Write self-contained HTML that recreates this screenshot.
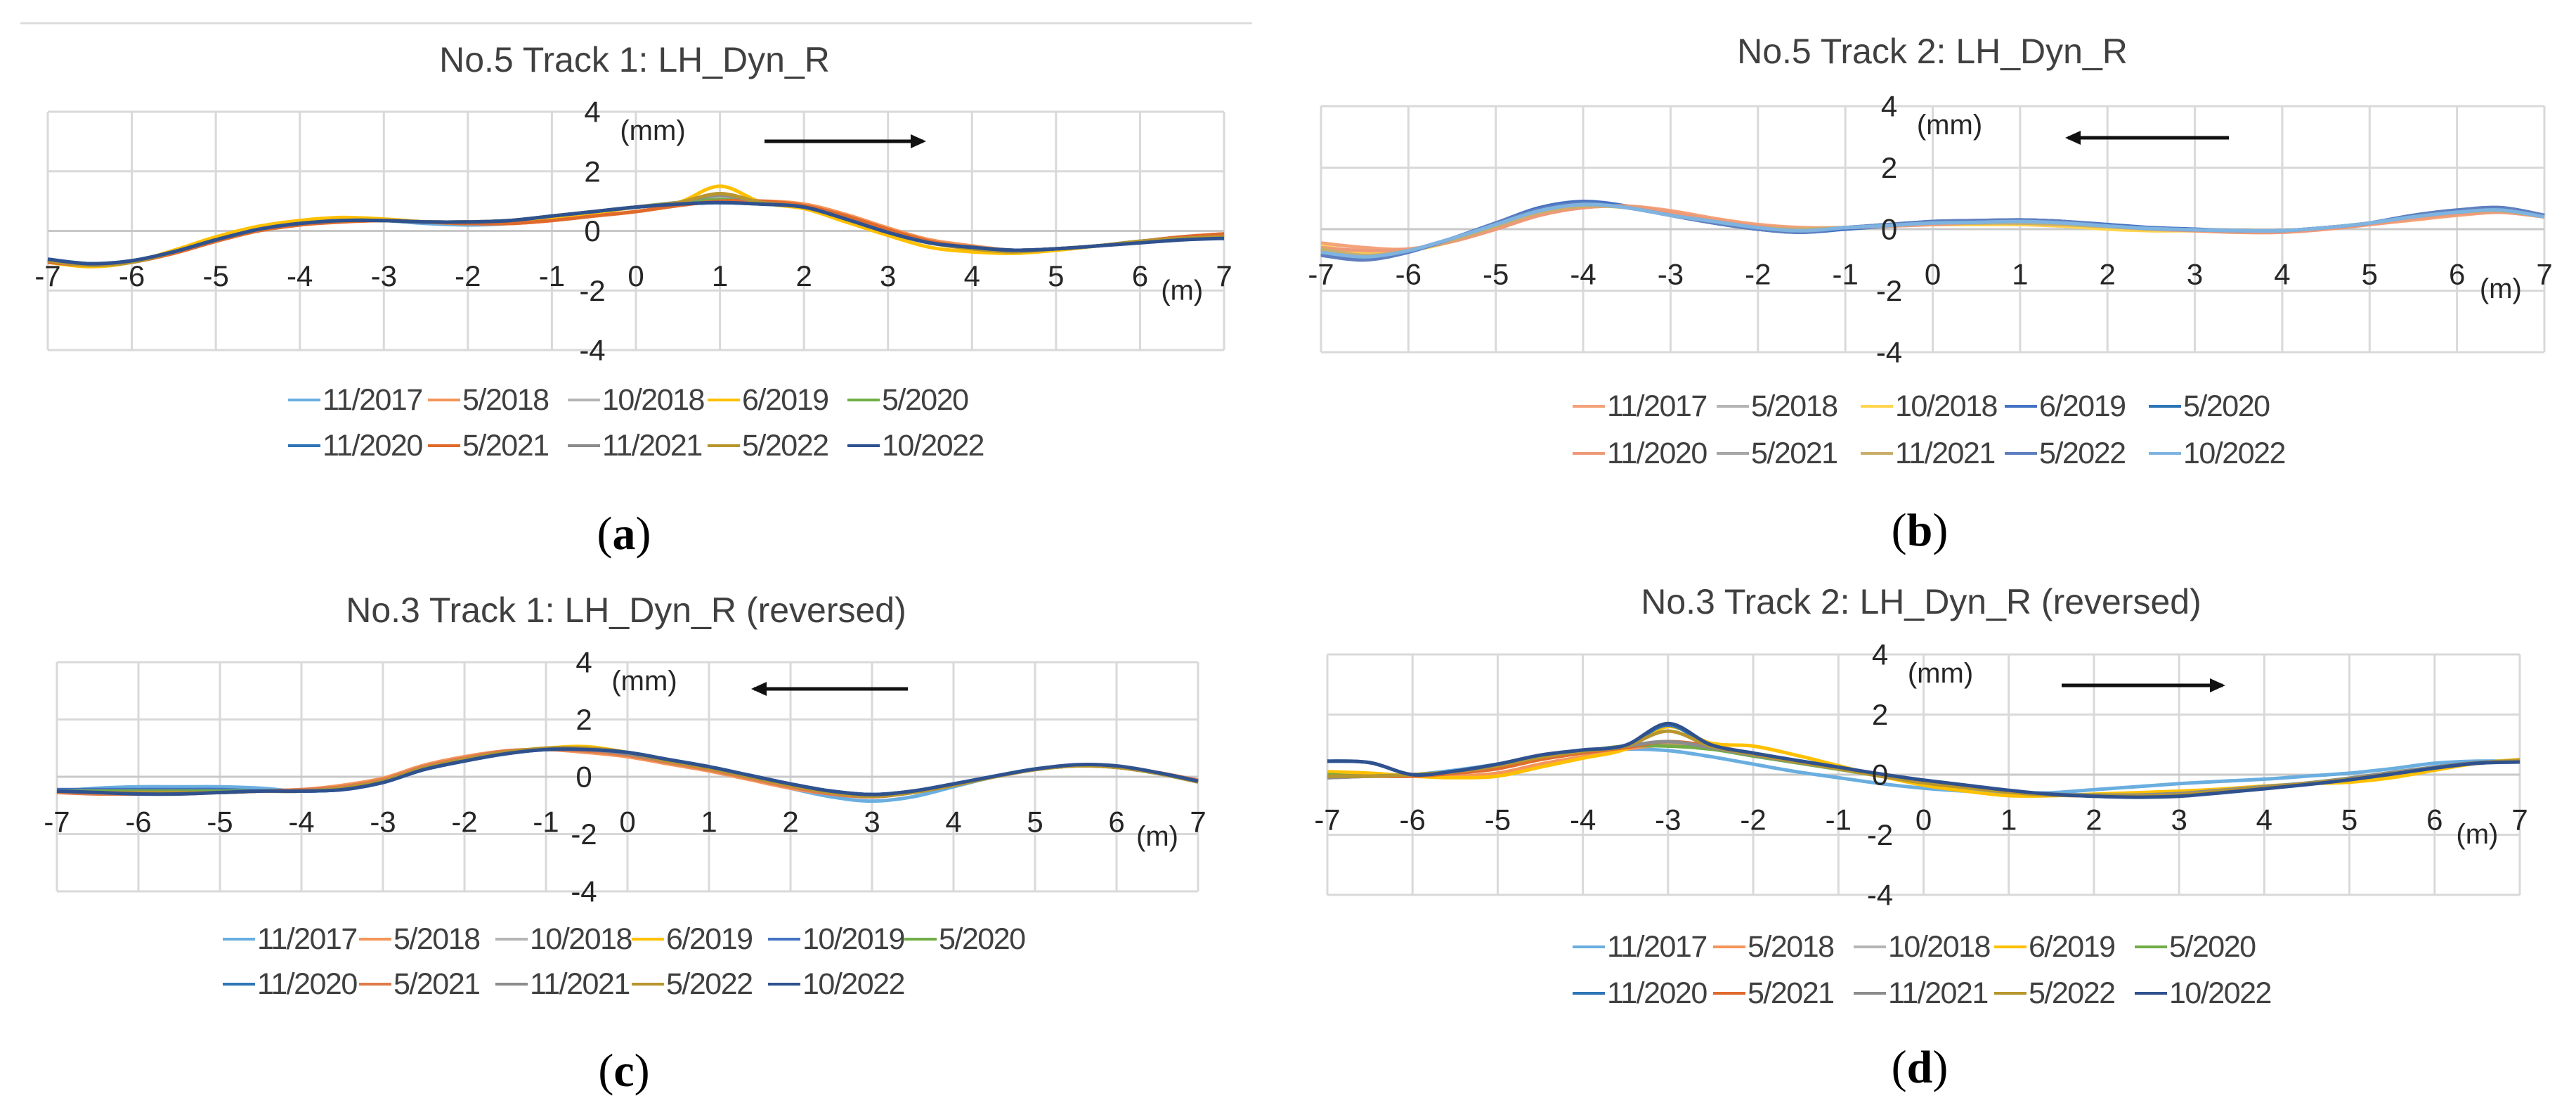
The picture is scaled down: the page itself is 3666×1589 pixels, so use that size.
<!DOCTYPE html>
<html><head><meta charset="utf-8">
<style>
html,body{margin:0;padding:0;background:#fff;}
svg{display:block;}
</style></head>
<body>
<svg id="fig" xmlns="http://www.w3.org/2000/svg" width="3666" height="1589" viewBox="0 0 3666 1589">
<rect x="0" y="0" width="3666" height="1589" fill="#fff"/>
<line x1="29" y1="33" x2="1782" y2="33" stroke="#dcdcdc" stroke-width="3"/>
</svg>
<script>
// shared x positions (m)
const xs = [-7,-6.5,-6,-5.5,-5,-4.5,-4,-3.5,-3,-2.5,-2,-1.5,-1,-0.5,0,0.5,1,1.5,2,2.5,3,3.5,4,4.5,5,5.5,6,6.5,7];
const xTicks = [-7,-6,-5,-4,-3,-2,-1,0,1,2,3,4,5,6,7];
const yTicks = [4,2,0,-2,-4];

// ---- chart (a) No.5 Track 1 ----
const aLabels = ["11/2017","5/2018","10/2018","6/2019","5/2020","11/2020","5/2021","11/2021","5/2022","10/2022"];
const a1 = [-1.0,-1.15,-1.05,-0.7,-0.3,0.05,0.25,0.35,0.35,0.25,0.2,0.25,0.4,0.6,0.8,0.95,1.0,0.95,0.8,0.4,-0.05,-0.4,-0.55,-0.65,-0.6,-0.5,-0.35,-0.2,-0.1];
const a2 = [-1.05,-1.15,-1.05,-0.75,-0.35,0.0,0.2,0.35,0.35,0.3,0.25,0.25,0.35,0.5,0.65,0.85,1.0,1.0,0.9,0.55,0.1,-0.3,-0.5,-0.65,-0.6,-0.5,-0.35,-0.2,-0.1];
const a3 = [-1.0,-1.15,-1.05,-0.7,-0.3,0.05,0.25,0.35,0.35,0.3,0.3,0.35,0.5,0.65,0.8,0.95,1.15,0.95,0.8,0.4,-0.05,-0.4,-0.55,-0.65,-0.6,-0.5,-0.35,-0.25,-0.2];
const a4 = [-1.05,-1.2,-1.05,-0.65,-0.2,0.15,0.35,0.45,0.4,0.3,0.25,0.3,0.45,0.6,0.8,0.95,1.5,0.95,0.75,0.3,-0.15,-0.55,-0.7,-0.75,-0.65,-0.5,-0.35,-0.25,-0.15];
const a5 = [-1.0,-1.15,-1.05,-0.7,-0.3,0.05,0.25,0.35,0.35,0.3,0.3,0.35,0.5,0.65,0.8,0.95,1.05,0.95,0.8,0.4,-0.05,-0.4,-0.55,-0.65,-0.6,-0.5,-0.35,-0.25,-0.25];
const a6 = [-0.95,-1.1,-1.0,-0.7,-0.3,0.05,0.25,0.35,0.35,0.3,0.3,0.35,0.5,0.65,0.8,0.9,0.95,0.9,0.8,0.4,-0.05,-0.4,-0.55,-0.65,-0.6,-0.5,-0.35,-0.25,-0.2];
const a7 = [-1.05,-1.15,-1.05,-0.75,-0.35,0.0,0.2,0.3,0.35,0.3,0.25,0.25,0.35,0.5,0.65,0.85,1.0,1.0,0.85,0.5,0.05,-0.35,-0.55,-0.65,-0.6,-0.5,-0.35,-0.2,-0.1];
const a8 = [-1.0,-1.15,-1.05,-0.7,-0.3,0.05,0.25,0.35,0.35,0.3,0.3,0.35,0.5,0.65,0.8,0.95,1.2,0.95,0.8,0.4,-0.05,-0.4,-0.55,-0.65,-0.6,-0.5,-0.35,-0.25,-0.2];
const a9 = [-1.0,-1.15,-1.05,-0.7,-0.3,0.05,0.25,0.35,0.35,0.3,0.3,0.35,0.5,0.65,0.8,0.95,1.25,0.95,0.8,0.4,-0.05,-0.4,-0.6,-0.7,-0.6,-0.5,-0.35,-0.25,-0.2];
const a10 = [-0.95,-1.1,-1.0,-0.7,-0.3,0.05,0.25,0.35,0.35,0.3,0.3,0.35,0.5,0.65,0.8,0.9,0.95,0.9,0.8,0.4,-0.05,-0.4,-0.55,-0.65,-0.6,-0.5,-0.4,-0.3,-0.25];
const aColors = ["#6aaee0","#f4955a","#b5b5b5","#ffc000","#70ad47","#2e75b6","#e06a2c","#8c8c8c","#b8962e","#2f528f"];

// ---- chart (b) No.5 Track 2 ----
const bLabels = ["11/2017","5/2018","10/2018","6/2019","5/2020","11/2020","5/2021","11/2021","5/2022","10/2022"];
const b1 = [-0.45,-0.6,-0.65,-0.4,0.0,0.45,0.7,0.75,0.6,0.35,0.15,0.05,0.05,0.1,0.15,0.15,0.15,0.1,0.05,0.0,-0.05,-0.1,-0.1,0.0,0.15,0.3,0.45,0.55,0.4];
const b2 = [-0.6,-0.8,-0.7,-0.35,0.1,0.55,0.8,0.7,0.45,0.25,0.05,-0.05,0.05,0.12,0.2,0.22,0.25,0.2,0.1,0.02,-0.02,-0.05,-0.05,0.05,0.2,0.4,0.55,0.62,0.4];
const b3 = [-0.55,-0.75,-0.7,-0.4,0.05,0.5,0.75,0.7,0.45,0.25,0.05,0.0,0.05,0.1,0.15,0.15,0.15,0.1,0.0,-0.05,-0.05,-0.05,-0.05,0.05,0.2,0.4,0.5,0.6,0.4];
const b4 = [-0.8,-0.95,-0.7,-0.3,0.2,0.7,0.9,0.75,0.45,0.2,0.0,-0.1,0.0,0.1,0.2,0.25,0.3,0.25,0.15,0.05,0.0,-0.05,-0.05,0.05,0.2,0.45,0.6,0.7,0.45];
const b5 = [-0.8,-0.95,-0.7,-0.3,0.15,0.65,0.85,0.7,0.45,0.2,0.0,-0.1,0.05,0.15,0.25,0.28,0.3,0.25,0.12,0.02,-0.02,-0.05,-0.05,0.05,0.2,0.45,0.62,0.68,0.45];
const b6 = [-0.6,-0.7,-0.65,-0.4,0.0,0.45,0.7,0.75,0.55,0.3,0.1,0.0,0.05,0.1,0.15,0.2,0.2,0.15,0.1,0.0,-0.05,-0.1,-0.1,0.0,0.15,0.35,0.5,0.55,0.4];
const b7 = [-0.7,-0.9,-0.7,-0.35,0.1,0.6,0.8,0.7,0.45,0.25,0.05,-0.05,0.05,0.12,0.2,0.22,0.25,0.2,0.1,0.02,-0.02,-0.05,-0.05,0.05,0.2,0.4,0.55,0.62,0.4];
const b8 = [-0.65,-0.85,-0.7,-0.35,0.1,0.55,0.75,0.7,0.45,0.25,0.05,0.0,0.05,0.12,0.2,0.2,0.2,0.15,0.08,0.0,-0.02,-0.05,-0.05,0.05,0.2,0.4,0.55,0.6,0.4];
const b9 = [-0.85,-1.0,-0.75,-0.3,0.2,0.65,0.85,0.7,0.45,0.2,0.0,-0.1,0.05,0.15,0.25,0.28,0.3,0.25,0.12,0.02,-0.02,-0.05,-0.05,0.05,0.2,0.45,0.62,0.7,0.45];
const b10 = [-0.75,-0.9,-0.7,-0.3,0.15,0.6,0.8,0.7,0.45,0.25,0.05,-0.05,0.05,0.12,0.2,0.22,0.25,0.2,0.1,0.02,-0.02,-0.05,-0.05,0.05,0.2,0.4,0.55,0.62,0.4];
const bColors = ["#f4a27a","#b5b5b5","#ffd54f","#4472c4","#2e75b6","#ee9a78","#a6a6a6","#c9ae6b","#5f7fbf","#7fb3e0"];

// ---- chart (c) No.3 Track 1 (reversed) ----
const cLabels = ["11/2017","5/2018","10/2018","6/2019","10/2019","5/2020","11/2020","5/2021","11/2021","5/2022","10/2022"];
const c1 = [-0.5,-0.4,-0.35,-0.35,-0.35,-0.4,-0.5,-0.4,-0.15,0.3,0.6,0.85,0.95,0.95,0.8,0.5,0.25,-0.05,-0.4,-0.7,-0.85,-0.7,-0.35,0.0,0.25,0.38,0.33,0.12,-0.18];
const c2 = [-0.5,-0.55,-0.55,-0.55,-0.55,-0.5,-0.45,-0.3,-0.05,0.4,0.7,0.9,0.95,0.85,0.7,0.45,0.2,-0.1,-0.4,-0.6,-0.7,-0.55,-0.3,0.0,0.25,0.4,0.35,0.15,-0.15];
const c3 = [-0.5,-0.5,-0.5,-0.5,-0.5,-0.5,-0.5,-0.4,-0.15,0.3,0.6,0.85,0.95,0.95,0.8,0.55,0.3,0.0,-0.3,-0.55,-0.68,-0.55,-0.3,0.0,0.25,0.38,0.33,0.12,-0.18];
const c4 = [-0.5,-0.55,-0.55,-0.55,-0.55,-0.5,-0.5,-0.4,-0.15,0.3,0.6,0.85,1.0,1.05,0.85,0.6,0.3,0.0,-0.3,-0.55,-0.68,-0.55,-0.3,0.0,0.25,0.38,0.33,0.12,-0.18];
const c5 = [-0.45,-0.45,-0.45,-0.45,-0.45,-0.5,-0.5,-0.45,-0.2,0.25,0.55,0.85,0.95,0.95,0.85,0.6,0.35,0.05,-0.25,-0.5,-0.62,-0.5,-0.25,0.02,0.27,0.4,0.35,0.12,-0.18];
const c6 = [-0.5,-0.5,-0.5,-0.5,-0.5,-0.5,-0.5,-0.4,-0.15,0.3,0.6,0.85,0.95,0.95,0.8,0.55,0.3,0.0,-0.3,-0.55,-0.68,-0.55,-0.3,0.0,0.25,0.38,0.33,0.12,-0.18];
const c7 = [-0.5,-0.55,-0.55,-0.55,-0.55,-0.5,-0.5,-0.45,-0.2,0.25,0.55,0.8,0.95,0.95,0.85,0.6,0.35,0.05,-0.25,-0.5,-0.62,-0.5,-0.25,0.02,0.27,0.4,0.35,0.12,-0.15];
const c8 = [-0.55,-0.6,-0.6,-0.6,-0.55,-0.5,-0.45,-0.35,-0.1,0.35,0.65,0.9,0.95,0.9,0.75,0.5,0.25,-0.05,-0.35,-0.6,-0.7,-0.55,-0.3,0.0,0.25,0.4,0.35,0.15,-0.12];
const c9 = [-0.5,-0.55,-0.55,-0.55,-0.55,-0.5,-0.5,-0.4,-0.15,0.3,0.6,0.85,0.95,0.95,0.8,0.55,0.3,0.0,-0.3,-0.55,-0.68,-0.55,-0.3,0.0,0.25,0.38,0.33,0.12,-0.18];
const c10 = [-0.5,-0.55,-0.55,-0.55,-0.55,-0.5,-0.5,-0.4,-0.15,0.3,0.6,0.85,1.0,1.0,0.85,0.55,0.3,0.0,-0.3,-0.55,-0.68,-0.55,-0.3,0.0,0.25,0.38,0.33,0.12,-0.18];
const c11 = [-0.5,-0.55,-0.6,-0.6,-0.55,-0.5,-0.5,-0.45,-0.2,0.25,0.55,0.8,0.95,0.95,0.85,0.6,0.35,0.05,-0.25,-0.5,-0.62,-0.5,-0.25,0.02,0.27,0.42,0.38,0.15,-0.15];
const cColors = ["#6aaee0","#f4955a","#b5b5b5","#ffc000","#4472c4","#70ad47","#2e75b6","#e07b4a","#8c8c8c","#b8962e","#2f528f"];

// ---- chart (d) No.3 Track 2 (reversed) ----
const dLabels = ["11/2017","5/2018","10/2018","6/2019","5/2020","11/2020","5/2021","11/2021","5/2022","10/2022"];
const d1 = [-0.1,-0.05,0.0,0.15,0.35,0.6,0.75,0.85,0.8,0.6,0.35,0.1,-0.1,-0.3,-0.45,-0.55,-0.6,-0.6,-0.5,-0.4,-0.3,-0.22,-0.15,-0.05,0.05,0.2,0.38,0.45,0.45];
const d2 = [-0.1,-0.05,-0.05,-0.05,0.05,0.35,0.6,0.85,1.0,0.95,0.7,0.45,0.2,-0.05,-0.25,-0.4,-0.55,-0.65,-0.7,-0.7,-0.65,-0.55,-0.42,-0.3,-0.15,0.0,0.2,0.38,0.5];
const d3 = [-0.1,-0.05,0.0,0.1,0.3,0.6,0.78,0.95,1.1,0.9,0.65,0.42,0.2,-0.05,-0.25,-0.4,-0.55,-0.65,-0.68,-0.68,-0.63,-0.52,-0.4,-0.28,-0.12,0.07,0.25,0.4,0.45];
const d4 = [0.1,0.05,-0.05,-0.1,-0.05,0.25,0.55,0.85,1.6,1.05,0.95,0.65,0.3,-0.05,-0.35,-0.55,-0.7,-0.7,-0.65,-0.6,-0.55,-0.48,-0.38,-0.3,-0.25,-0.1,0.15,0.38,0.5];
const d5 = [0.0,-0.05,0.0,0.1,0.3,0.6,0.78,0.95,0.95,0.85,0.62,0.4,0.18,-0.05,-0.25,-0.4,-0.55,-0.65,-0.68,-0.68,-0.63,-0.52,-0.4,-0.28,-0.12,0.07,0.25,0.4,0.45];
const d6 = [0.45,0.4,0.0,0.1,0.3,0.6,0.8,0.95,1.65,0.95,0.7,0.45,0.22,0.0,-0.2,-0.38,-0.55,-0.65,-0.7,-0.7,-0.68,-0.58,-0.45,-0.3,-0.15,0.05,0.25,0.4,0.45];
const d7 = [-0.05,-0.05,-0.05,0.05,0.2,0.5,0.72,0.9,1.1,0.95,0.7,0.45,0.2,-0.05,-0.25,-0.42,-0.58,-0.68,-0.7,-0.7,-0.65,-0.55,-0.42,-0.3,-0.15,0.03,0.22,0.38,0.45];
const d8 = [-0.1,-0.05,0.0,0.1,0.3,0.6,0.78,0.95,1.1,0.9,0.65,0.42,0.2,-0.05,-0.25,-0.4,-0.55,-0.65,-0.68,-0.68,-0.63,-0.52,-0.4,-0.28,-0.12,0.07,0.25,0.4,0.45];
const d9 = [-0.05,-0.05,0.0,0.1,0.3,0.58,0.78,0.95,1.45,0.95,0.68,0.43,0.2,-0.05,-0.27,-0.43,-0.58,-0.68,-0.7,-0.72,-0.67,-0.55,-0.43,-0.3,-0.15,0.03,0.22,0.38,0.48];
const d10 = [0.45,0.4,0.0,0.12,0.35,0.65,0.82,0.98,1.7,1.0,0.72,0.48,0.25,0.02,-0.18,-0.35,-0.52,-0.65,-0.72,-0.75,-0.72,-0.6,-0.47,-0.33,-0.17,0.02,0.22,0.38,0.42];
const dColors = ["#6aaee0","#f4955a","#b5b5b5","#ffc000","#70ad47","#2e75b6","#e06a2c","#8c8c8c","#b8962e","#2f528f"];

const NS = "http://www.w3.org/2000/svg";
const svg = document.getElementById('fig');
function mk(tag, attrs, parent){
  const e = document.createElementNS(NS, tag);
  for (const k in attrs) e.setAttribute(k, attrs[k]);
  (parent||svg).appendChild(e);
  return e;
}
function smoothPath(pts){
  let d = "M" + pts[0][0].toFixed(1) + "," + pts[0][1].toFixed(1);
  for (let i=0;i<pts.length-1;i++){
    const p0 = pts[Math.max(0,i-1)], p1 = pts[i], p2 = pts[i+1], p3 = pts[Math.min(pts.length-1,i+2)];
    const c1x = p1[0]+(p2[0]-p0[0])/6, c1y = p1[1]+(p2[1]-p0[1])/6;
    const c2x = p2[0]-(p3[0]-p1[0])/6, c2y = p2[1]-(p3[1]-p1[1])/6;
    d += " C"+c1x.toFixed(1)+","+c1y.toFixed(1)+" "+c2x.toFixed(1)+","+c2y.toFixed(1)+" "+p2[0].toFixed(1)+","+p2[1].toFixed(1);
  }
  return d;
}

function drawChart(cfg){
  const g = mk('g', {});
  
  
  const sx = v => cfg.L + (v + 7) / 14 * (cfg.R - cfg.L);
  const sy = v => cfg.T + (4 - v) / 8 * (cfg.B - cfg.T);
  const font = '"Liberation Sans", sans-serif';

  const title = mk('text', {x: cfg.tx, y: cfg.ty, 'text-anchor':'middle', 'dominant-baseline':'central', 'font-family':font, 'font-size':50, fill:'#404040'}, g);
  
  
  title.textContent = cfg.title;

  for (const t of xTicks){
    const l = mk('line', {x1:sx(t), x2:sx(t), y1:cfg.T, y2:cfg.B, stroke:'#d9d9d9', 'stroke-width':3}, g);
    
    
  }
  for (const t of yTicks){
    const l = mk('line', {x1:cfg.L, x2:cfg.R, y1:sy(t), y2:sy(t), stroke: t===0 ? '#c8c8c8' : '#d9d9d9', 'stroke-width':3}, g);
    
    
  }
  cfg.series.forEach((vals, i) => {
    const pts = vals.map((v, j) => [sx(xs[j]), sy(v)]);
    const p = mk('path', {d: smoothPath(pts), fill:'none', stroke: cfg.colors[i], 'stroke-width':5, 'stroke-linejoin':'round'}, g);
    
    
  });
  const x0 = sx(0);
  for (const t of yTicks){
    const tl = mk('text', {x: x0-62, y: sy(t), 'text-anchor':'middle', 'dominant-baseline':'central', 'font-family':font, 'font-size':42, fill:'#262626'}, g);
    
    
    tl.textContent = String(t);
  }
  for (const t of xTicks){
    const tl = mk('text', {x: sx(t), y: sy(0)+64, 'text-anchor':'middle', 'dominant-baseline':'central', 'font-family':font, 'font-size':42, fill:'#262626'}, g);
    
    
    tl.textContent = String(t);
  }
  const mm = mk('text', {x: x0+24, y: cfg.T+27, 'text-anchor':'middle', 'dominant-baseline':'central', 'font-family':font, 'font-size':40, fill:'#262626'}, g);
  
  
  mm.textContent = '(mm)';
  const mUnit = mk('text', {x: sx(6.5), y: sy(0)+85, 'text-anchor':'middle', 'dominant-baseline':'central', 'font-family':font, 'font-size':40, fill:'#262626'}, g);
  
  
  mUnit.textContent = '(m)';

  const a = mk('g', {}, g);
  
  
  mk('line', {x1:cfg.ax1, x2:cfg.ax2, y1:cfg.ay, y2:cfg.ay, stroke:'#111', 'stroke-width':5}, a);
  const dir = cfg.ax2 > cfg.ax1 ? 1 : -1;
  mk('polygon', {points: `${cfg.ax2+dir*4},${cfg.ay} ${cfg.ax2-dir*18},${cfg.ay-10} ${cfg.ax2-dir*18},${cfg.ay+10}`, fill:'#111'}, a);

  cfg.labels.forEach((lab, i) => {
    const row = i < cfg.perRow ? 0 : 1;
    const col = row === 0 ? i : i - cfg.perRow;
    const lx = cfg.lx + col * cfg.lsp;
    const ly = row === 0 ? cfg.ly1 : cfg.ly2;
    const it = mk('g', {}, g);
    
    
    mk('line', {x1:lx, x2:lx+46, y1:ly, y2:ly, stroke: cfg.colors[i], 'stroke-width':4}, it);
    const tt = mk('text', {x: lx+49, y: ly, 'dominant-baseline':'central', 'font-family':font, 'font-size':43, 'letter-spacing':-1.5, fill:'#404040'}, it);
    tt.textContent = lab;
  });

  const pl = mk('text', {x: cfg.px, y: cfg.py, 'text-anchor':'middle', 'dominant-baseline':'central', 'font-family':'"Liberation Serif", serif', 'font-size':66, fill:'#000'}, g);
  
  
  pl.innerHTML = '(<tspan font-weight="bold">' + cfg.panel + '</tspan>)';
}

drawChart({name:'chart-a', title:'No.5 Track 1: LH_Dyn_R', tx:903, ty:85, L:68, R:1742, T:159, B:498,
  series:[a1,a2,a3,a4,a5,a6,a7,a8,a9,a10], colors:aColors, labels:aLabels,
  ax1:1088, ax2:1314, ay:201, lx:410, lsp:199, perRow:5, ly1:569, ly2:634, px:888, py:759, panel:'a'});
drawChart({name:'chart-b', title:'No.5 Track 2: LH_Dyn_R', tx:2750, ty:73, L:1880, R:3621, T:151, B:501,
  series:[b1,b2,b3,b4,b5,b6,b7,b8,b9,b10], colors:bColors, labels:bLabels,
  ax1:3172, ax2:2943, ay:196, lx:2238, lsp:205, perRow:5, ly1:578, ly2:645, px:2732, py:754, panel:'b'});
drawChart({name:'chart-c', title:'No.3 Track 1: LH_Dyn_R (reversed)', tx:891, ty:868, L:81, R:1705, T:942, B:1268,
  series:[c1,c2,c3,c4,c5,c6,c7,c8,c9,c10,c11], colors:cColors, labels:cLabels,
  ax1:1292, ax2:1073, ay:980, lx:317, lsp:194, perRow:6, ly1:1336, ly2:1400, px:888, py:1523, panel:'c'});
drawChart({name:'chart-d', title:'No.3 Track 2: LH_Dyn_R (reversed)', tx:2734, ty:856, L:1889, R:3586, T:931, B:1273,
  series:[d1,d2,d3,d4,d5,d6,d7,d8,d9,d10], colors:dColors, labels:dLabels,
  ax1:2934, ax2:3163, ay:975, lx:2238, lsp:200, perRow:5, ly1:1347, ly2:1413, px:2732, py:1518, panel:'d'});
</script>
</body></html>
